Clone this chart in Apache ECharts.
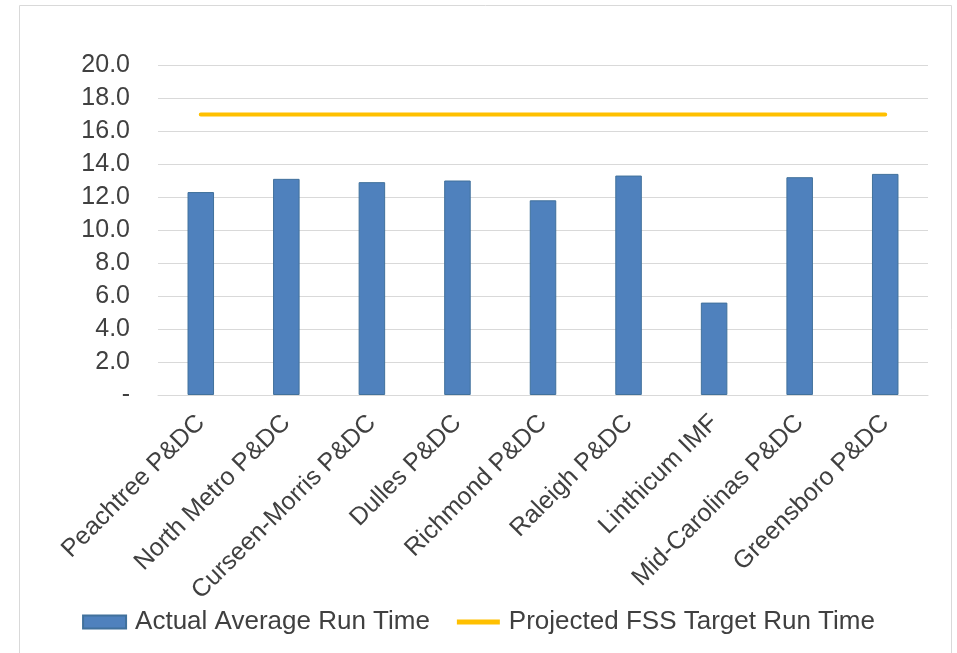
<!DOCTYPE html>
<html>
<head>
<meta charset="utf-8">
<script src="https://cdn.jsdelivr.net/npm/echarts@6/dist/echarts.min.js"></script>
<style>
  html, body { margin: 0; padding: 0; background: #fff; }
  #main { width: 957px; height: 653px; }
</style>
</head>
<body>
<div id="main"></div>
<script>
const categories = ['Peachtree P&DC', 'North Metro P&DC', 'Curseen-Morris P&DC', 'Dulles P&DC',
  'Richmond P&DC', 'Raleigh P&DC', 'Linthicum IMF', 'Mid-Carolinas P&DC', 'Greensboro P&DC']
const actualRunTime = [12.3, 13.1, 12.9, 13.0, 11.8, 13.3, 5.6, 13.2, 13.4]
const targetRunTime = [17.0, 17.0, 17.0, 17.0, 17.0, 17.0, 17.0, 17.0, 17.0]

const font = 'Liberation Sans, Arial, sans-serif'
// thin bar centred in the legend box (tiny corner points keep the box height)
const lineIcon = 'path://M0,0L0.01,0L0.01,0.01ZM0,4L43,4L43,9L0,9ZM0,13L0.01,13L0.01,13.01Z'

let myChart = echarts.init(document.getElementById('main'))

myChart.setOption({
  animation: false,
  // chart frame
  graphic: [{
    type: 'rect',
    shape: { x: 19.5, y: 5.5, width: 932, height: 660 },
    style: { fill: 'none', stroke: '#d9d9d9', lineWidth: 1 },
    silent: true
  }],
  grid: { left: 158, right: 29, top: 65, bottom: 258 },
  legend: {
    bottom: 13,
    left: 'center',
    itemGap: 27,
    itemWidth: 43,
    itemHeight: 13,
    textStyle: { fontFamily: font, fontSize: 26, color: '#404040', padding: [0, 0, 0, 4] },
    data: [
      { name: 'Actual Average Run Time', icon: 'rect' },
      { name: 'Projected FSS Target Run Time', icon: lineIcon, itemStyle: { color: '#ffc000' } }
    ]
  },
  xAxis: {
    type: 'category',
    data: categories,
    axisLine: { show: true, lineStyle: { color: '#d9d9d9', width: 1 } },
    axisTick: { show: false },
    axisLabel: {
      rotate: 45,
      interval: 0,
      margin: 24,
      fontFamily: font,
      fontSize: 25,
      color: '#404040'
    }
  },
  yAxis: {
    type: 'value',
    min: 0,
    max: 20,
    interval: 2,
    axisLine: { show: false },
    axisTick: { show: false },
    splitLine: { lineStyle: { color: '#d9d9d9', width: 1 } },
    axisLabel: {
      margin: 28,
      fontFamily: font,
      fontSize: 25,
      color: '#404040',
      formatter: v => v === 0 ? '-' : v.toFixed(1)
    }
  },
  series: [{
    name: 'Actual Average Run Time',
    type: 'bar',
    data: actualRunTime,
    barWidth: '31%',
    itemStyle: { color: '#4f81bd', borderColor: '#41719c', borderWidth: 1 }
  }, {
    name: 'Projected FSS Target Run Time',
    type: 'line',
    data: targetRunTime,
    symbol: 'none',
    lineStyle: { color: '#ffc000', width: 4, cap: 'round' },
    itemStyle: { color: '#ffc000' }
  }]
})
</script>
</body>
</html>
